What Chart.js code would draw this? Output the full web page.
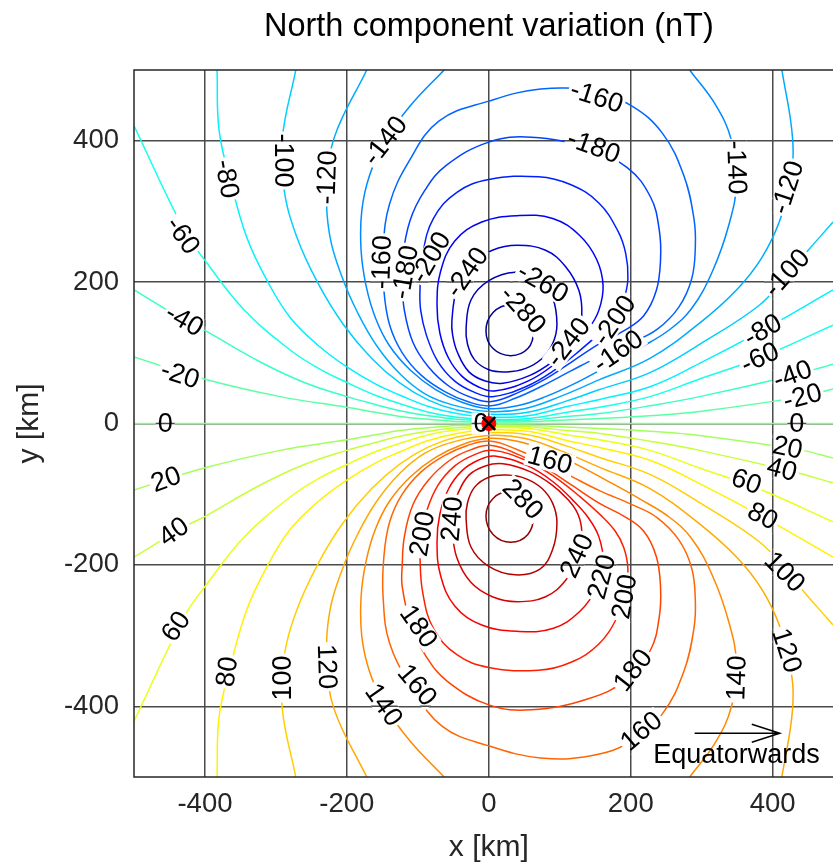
<!DOCTYPE html>
<html>
<head>
<meta charset="utf-8">
<script src="https://cdn.jsdelivr.net/npm/chart.js@4.4.1/dist/chart.umd.min.js"></script>
<style>
  html, body { margin: 0; padding: 0; background: #fff; }
</style>
</head>
<body>
<canvas id="myChart" width="833" height="863"></canvas>
<script>
// tick values (km)
var xTicks = [-400, -200, 0, 200, 400];
var yTicks = [-400, -200, 0, 200, 400];

// contour lines, [x km, y km]
// closed rings are listed once round, without repeating the first point
// negative levels (upper half)
var cN280 = [[-4,131],[6,157],[31,168],[55,157],[63,131],[55,106],[31,96],[6,106]];
var cN260 = [[-32,135],[-25,175],[0,202],[37,214],[72,206],[90,178],[96,140],[90,113],[75,92],[52,78],[25,73],[0,76],[-20,90],[-30,112]];
var cN240 = [[-52,146],[-45,190],[-25,225],[5,245],[40,252],[80,245],[108,222],[127,188],[131,153],[125,127],[110,106],[88,86],[58,68],[20,57],[-5,60],[-28,73],[-44,100],[-51,125]];
var cN220 = [[-73,168],[-68,215],[-48,258],[-10,285],[40,294],[90,290],[128,266],[152,232],[161,195],[155,160],[140,133],[118,108],[90,82],[55,60],[8,46],[-15,52],[-38,67],[-57,93],[-69,128]];
var cN200 = [[-97,189],[-93,240],[-78,290],[-45,327],[0,345],[70,349],[115,338],[155,312],[182,272],[193,240],[196,205],[190,175],[178,152],[158,130],[128,103],[92,75],[52,52],[5,38],[-20,44],[-48,60],[-72,88],[-88,125],[-96,160]];
var cN180 = [[-122,231],[-111,287],[-90,330],[-60,365],[0,398],[60,405],[138,390],[195,362],[228,320],[240,275],[242,232],[236,188],[218,152],[190,131],[156,113],[118,88],[80,63],[42,44],[4,31],[-25,37],[-55,52],[-85,80],[-107,115],[-119,160],[-122,200]];
var cN160 = [[-149,245],[-140,310],[-113,370],[-70,428],[0,456],[73,473],[144,470],[200,450],[245,410],[275,350],[289,290],[291,250],[286,205],[268,165],[237,133],[200,114],[156,95],[115,74],[75,53],[38,36],[3,25],[-30,31],[-62,45],[-95,68],[-122,100],[-140,140],[-148,190]];
var cN140 = [[-63,500],[-111,449],[-146,400],[-168,351],[-179,301],[-180,245],[-173,195],[-160,150],[-140,110],[-110,75],[-75,48],[-38,30],[0,21],[40,25],[80,38],[120,56],[165,80],[215,108],[255,133],[286,163],[315,215],[338,280],[349,340],[342,400],[320,450],[283,500]];
var cN120 = [[-172,500],[-218,404],[-228,334],[-224,265],[-206,205],[-185,157],[-158,110],[-125,70],[-90,42],[-50,26],[0,17],[50,21],[100,38],[156,62],[227,92],[297,142],[350,190],[385,235],[410,287],[425,344],[428,404],[413,500]];
var cN100 = [[-272,500],[-291,404],[-289,334],[-271,265],[-240,197],[-205,140],[-165,92],[-125,57],[-85,33],[-45,19],[0,13],[55,16],[110,32],[156,48],[227,72],[297,112],[382,168],[420,210],[450,245],[485,285]];
var cN80 = [[-383,500],[-380,414],[-363,339],[-341,263],[-313,203],[-280,150],[-240,110],[-200,80],[-160,56],[-125,40],[-85,24],[-45,14],[0,9],[55,11],[110,24],[156,34],[227,52],[297,85],[386,132],[485,189]];
var cN60 = [[-500,421],[-429,273],[-398,228],[-345,161],[-280,104],[-240,78],[-200,58],[-160,40],[-125,28],[-85,16],[-45,9],[0,6],[55,7],[110,16],[156,23],[227,38],[297,63],[382,93],[485,139]];
var cN40 = [[-500,189],[-429,146],[-401,132],[-322,87],[-260,58],[-200,38],[-160,27],[-125,18],[-85,11],[-45,6],[0,4],[55,4.5],[110,10],[156,14],[227,25],[297,38],[428,68],[485,84]];
var cN20 = [[-500,94],[-401,63],[-294,38],[-200,23],[-160,16],[-125,10],[-85,6],[-45,3],[0,2],[55,2.5],[110,5],[156,7],[227,11],[297,17],[442,38],[485,49]];
var c0 = [[-500,0],[485,0]];
// positive levels (lower half)
var cP20 = [[-500,-94],[-401,-63],[-294,-38],[-200,-23],[-160,-16],[-125,-10],[-85,-6],[-45,-3],[0,-2],[55,-2.5],[110,-5],[156,-7],[227,-11],[297,-17],[442,-38],[485,-49]];
var cP40 = [[-500,-189],[-429,-146],[-401,-132],[-322,-87],[-260,-58],[-200,-38],[-160,-27],[-125,-18],[-85,-11],[-45,-6],[0,-4],[55,-4.5],[110,-10],[156,-14],[227,-25],[297,-38],[428,-68],[485,-84]];
var cP60 = [[-500,-421],[-429,-273],[-398,-228],[-345,-161],[-280,-104],[-240,-78],[-200,-58],[-160,-40],[-125,-28],[-85,-16],[-45,-9],[0,-6],[55,-7],[110,-16],[156,-23],[227,-38],[297,-63],[382,-93],[485,-139]];
var cP80 = [[-383,-500],[-380,-414],[-363,-339],[-341,-263],[-313,-203],[-280,-150],[-240,-110],[-200,-80],[-160,-56],[-125,-40],[-85,-24],[-45,-14],[0,-9],[55,-11],[110,-24],[156,-34],[227,-52],[297,-85],[386,-132],[485,-189]];
var cP100 = [[-272,-500],[-291,-404],[-289,-334],[-271,-265],[-240,-197],[-205,-140],[-165,-92],[-125,-57],[-85,-33],[-45,-19],[0,-13],[55,-16],[110,-32],[156,-48],[227,-72],[297,-112],[382,-168],[420,-210],[450,-245],[485,-285]];
var cP120 = [[-172,-500],[-218,-404],[-228,-334],[-224,-265],[-206,-205],[-185,-157],[-158,-110],[-125,-70],[-90,-42],[-50,-26],[0,-17],[50,-21],[100,-38],[156,-62],[227,-92],[297,-142],[350,-190],[385,-235],[410,-287],[425,-344],[428,-404],[413,-500]];
var cP140 = [[-63,-500],[-111,-449],[-146,-400],[-168,-351],[-179,-301],[-180,-245],[-173,-195],[-160,-150],[-140,-110],[-110,-75],[-75,-48],[-38,-30],[0,-21],[40,-25],[80,-38],[120,-56],[165,-80],[215,-108],[255,-133],[286,-163],[315,-215],[338,-280],[349,-340],[342,-400],[320,-450],[283,-500]];
var cP160 = [[-149,-245],[-140,-310],[-110,-370],[-66,-428],[0,-456],[73,-473],[144,-470],[200,-450],[245,-410],[275,-350],[289,-290],[291,-250],[286,-205],[268,-165],[237,-133],[200,-114],[156,-95],[115,-74],[75,-53],[38,-36],[3,-25],[-30,-31],[-62,-45],[-95,-68],[-122,-100],[-140,-140],[-148,-190]];
var cP180 = [[-122,-231],[-109,-287],[-88,-330],[-58,-365],[0,-398],[60,-405],[138,-390],[195,-362],[228,-320],[240,-275],[242,-232],[236,-188],[218,-152],[190,-131],[156,-113],[118,-88],[80,-63],[42,-44],[4,-31],[-25,-37],[-55,-52],[-85,-80],[-107,-115],[-119,-160],[-122,-200]];
var cP200 = [[-97,-189],[-93,-240],[-78,-290],[-45,-327],[0,-345],[70,-349],[115,-338],[155,-312],[182,-272],[193,-240],[196,-205],[190,-175],[178,-152],[158,-130],[128,-103],[92,-75],[52,-52],[5,-38],[-20,-44],[-48,-60],[-72,-88],[-88,-125],[-96,-160]];
var cP220 = [[-73,-168],[-68,-215],[-48,-258],[-10,-285],[40,-294],[90,-290],[128,-266],[152,-232],[161,-195],[155,-160],[140,-133],[118,-108],[90,-82],[55,-60],[8,-46],[-15,-52],[-38,-67],[-57,-93],[-69,-128]];
var cP240 = [[-52,-146],[-45,-190],[-25,-225],[5,-245],[40,-252],[80,-245],[108,-222],[127,-188],[131,-153],[125,-127],[110,-106],[88,-86],[58,-68],[20,-57],[-5,-60],[-28,-73],[-44,-100],[-51,-125]];
var cP260 = [[-32,-135],[-25,-175],[0,-202],[37,-214],[72,-206],[90,-178],[96,-140],[90,-113],[75,-92],[52,-78],[25,-73],[0,-76],[-20,-90],[-30,-112]];
var cP280 = [[-4,-131],[6,-157],[31,-168],[55,-157],[63,-131],[55,-106],[31,-96],[6,-106]];

var levels = [-280, -260, -240, -220, -200, -180, -160, -140, -120, -100, -80, -60, -40, -20, 0,
              20, 40, 60, 80, 100, 120, 140, 160, 180, 200, 220, 240, 260, 280];
var contourLines = [cN280, cN260, cN240, cN220, cN200, cN180, cN160, cN140, cN120, cN100, cN80, cN60, cN40, cN20, c0,
                    cP20, cP40, cP60, cP80, cP100, cP120, cP140, cP160, cP180, cP200, cP220, cP240, cP260, cP280];
var closedLevels = [-280, -260, -240, -220, -200, -180, -160, 160, 180, 200, 220, 240, 260, 280];

// inline contour labels: [text, x km, y km, angle deg]
var contourLabels = [
  ["-80", -369, 346, 80], ["-100", -290, 372, 90], ["-120", -228, 348, -88], ["-60", -431, 266, 55],
  ["-140", -146, 400, -52], ["-40", -429, 146, 30], ["-20", -435, 69, 18], ["0", -456, 0, 0],
  ["-160", -151, 228, -88], ["-180", -118, 214, -80], ["-200", -82, 235, -60], ["-240", -31, 214, -55],
  ["-260", 76, 199, 30], ["-280", 48, 161, 48], ["-240", 112, 115, -52], ["-200", 177, 146, -55],
  ["-160", 182, 102, -35], ["-160", 152, 462, 18], ["-180", 148, 392, 20], ["-140", 349, 362, 88],
  ["-120", 421, 334, -72], ["-100", 420, 213, -48], ["-80", 386, 132, -30], ["-60", 382, 93, -25],
  ["-40", 428, 69, -20], ["-20", 442, 38, -15], ["0", 434, 0, 0], ["0", -11, 0, 0],
  ["20", 421, -34, 12], ["40", 413, -65, 15], ["60", 363, -82, 20], ["80", 386, -131, 28],
  ["100", 417, -210, 45], ["120", 420, -321, 72], ["140", 349, -360, -88], ["160", 215, -435, -40],
  ["180", 203, -349, -52], ["200", 191, -245, -80], ["220", 159, -217, -75], ["240", 124, -187, -65],
  ["160", 86, -52, 15], ["280", 48, -107, 45], ["240", -52, -135, -85], ["200", -94, -156, -80],
  ["180", -99, -287, 55], ["160", -101, -370, 50], ["140", -148, -398, 55], ["120", -228, -344, 88],
  ["100", -291, -360, -90], ["80", -369, -351, -82], ["60", -441, -287, -55], ["40", -444, -153, -35],
  ["20", -455, -79, -20]
];

var sourcePoint = [{ x: 0, y: 0 }];
var arrowFrom = [290, -438];
var arrowTo = [410, -438];
var arrowText = [349, -469];

var FONT = "'Liberation Sans', Arial, sans-serif";

function clamp01(v) { return Math.max(0, Math.min(1, v)); }
function jet(level) {
  var t = (level + 290) / 580;
  var r = clamp01(1.5 - Math.abs(4 * t - 3));
  var g = clamp01(1.5 - Math.abs(4 * t - 2));
  var b = clamp01(1.5 - Math.abs(4 * t - 1));
  return "rgb(" + Math.round(r * 255) + "," + Math.round(g * 255) + "," + Math.round(b * 255) + ")";
}

var datasets = contourLines.map(function (pts, i) {
  var color = jet(levels[i]);
  var closed = closedLevels.indexOf(levels[i]) >= 0;
  var path = pts;
  var n = pts.length;
  if (closed) {
    // wrap one point on each side so the spline runs smoothly round the loop
    path = [pts[n - 1]].concat(pts, [pts[0], pts[1]]);
  }
  return {
    data: path.map(function (p) { return { x: p[0], y: p[1] }; }),
    showLine: true,
    borderColor: color,
    borderWidth: 1.5,
    pointRadius: 0,
    tension: 0.4,
    fill: false,
    order: 1,
    segment: closed ? {
      borderColor: function (c) {
        return (c.p0DataIndex === 0 || c.p0DataIndex === n + 1) ? "rgba(0,0,0,0)" : color;
      }
    } : undefined
  };
});
// source marker: black cross on a red dot
datasets.push({
  data: sourcePoint, pointStyle: "crossRot", pointRadius: 9,
  pointBorderColor: "#000", pointBorderWidth: 2.5, showLine: false, order: 0
});
datasets.push({
  data: sourcePoint, pointStyle: "circle", pointRadius: 7,
  pointBackgroundColor: "#ff0000", pointBorderColor: "#ff0000", pointBorderWidth: 1, showLine: false, order: 0
});

var GRID = "#4a4a4a";

function drawGrid(ctx, chart) {
  var xs = chart.scales.x, ys = chart.scales.y, a = chart.chartArea;
  ctx.strokeStyle = GRID;
  ctx.lineWidth = 1.5;
  ctx.beginPath();
  xTicks.forEach(function (v) {
    var p = xs.getPixelForValue(v);
    ctx.moveTo(p, a.top); ctx.lineTo(p, a.bottom);
  });
  yTicks.forEach(function (v) {
    var p = ys.getPixelForValue(v);
    ctx.moveTo(a.left, p); ctx.lineTo(a.right, p);
  });
  ctx.stroke();
}

var overlay = {
  id: "overlay",
  afterDatasetDraw: function (chart, args) {
    if (args.index !== 0) return;
    var ctx = chart.ctx, xs = chart.scales.x, ys = chart.scales.y, a = chart.chartArea;
    var base = ctx.getTransform();
    ctx.save();
    ctx.beginPath();
    ctx.rect(a.left, a.top, a.right - a.left, a.bottom - a.top);
    ctx.clip();
    ctx.font = "27px " + FONT;
    // gaps in the contour lines under the labels
    contourLabels.forEach(function (lab) {
      var px = xs.getPixelForValue(lab[1]), py = ys.getPixelForValue(lab[2]);
      ctx.save();
      ctx.translate(px, py);
      ctx.rotate(lab[3] * Math.PI / 180);
      var w = ctx.measureText(lab[0]).width + 4;
      ctx.beginPath();
      ctx.rect(-w / 2, -11, w, 22);
      ctx.fillStyle = "#fff";
      ctx.fill();
      ctx.clip();
      ctx.setTransform(base);
      drawGrid(ctx, chart);
      ctx.restore();
    });
    ctx.fillStyle = "#000";
    ctx.textAlign = "center";
    ctx.textBaseline = "middle";
    contourLabels.forEach(function (lab) {
      var px = xs.getPixelForValue(lab[1]), py = ys.getPixelForValue(lab[2]);
      ctx.save();
      ctx.translate(px, py);
      ctx.rotate(lab[3] * Math.PI / 180);
      ctx.fillText(lab[0], 0, 1);
      ctx.restore();
    });
    // equatorwards arrow
    var x1 = xs.getPixelForValue(arrowFrom[0]), y1 = ys.getPixelForValue(arrowFrom[1]);
    var x2 = xs.getPixelForValue(arrowTo[0]), y2 = ys.getPixelForValue(arrowTo[1]);
    ctx.strokeStyle = "#000";
    ctx.lineWidth = 1.5;
    ctx.beginPath();
    ctx.moveTo(x1, y1); ctx.lineTo(x2, y2);
    ctx.moveTo(x2 - 28, y2 - 9); ctx.lineTo(x2, y2); ctx.lineTo(x2 - 28, y2 + 9);
    ctx.stroke();
    ctx.fillText("Equatorwards", xs.getPixelForValue(arrowText[0]), ys.getPixelForValue(arrowText[1]));
    ctx.restore();
  },
  afterDraw: function (chart) {
    var ctx = chart.ctx, xs = chart.scales.x, ys = chart.scales.y, a = chart.chartArea;
    ctx.save();
    // frame (right side runs off the picture)
    ctx.strokeStyle = "#262626";
    ctx.lineWidth = 1.5;
    ctx.strokeRect(a.left, a.top, a.right - a.left + 20, a.bottom - a.top);
    ctx.fillStyle = "#000";
    ctx.textAlign = "center";
    ctx.textBaseline = "middle";
    var x0 = xs.getPixelForValue(0), y0 = ys.getPixelForValue(0);
    ctx.font = "32.5px " + FONT;
    ctx.fillText("North component variation (nT)", x0, 27);
    ctx.fillStyle = "#262626";
    ctx.font = "30px " + FONT;
    ctx.fillText("x [km]", x0, 848);
    ctx.translate(30, y0);
    ctx.rotate(-Math.PI / 2);
    ctx.fillText("y [km]", 0, 0);
    ctx.restore();
  }
};

var ctx = document.getElementById("myChart");
var myChart = new Chart(ctx, {
  type: "scatter",
  data: { datasets: datasets },
  options: {
    responsive: false,
    animation: false,
    events: [],
    layout: { autoPadding: false, padding: { top: 70, right: 0, bottom: 0, left: 0 } },
    plugins: {
      legend: { display: false },
      tooltip: { enabled: false },
      title: { display: false }
    },
    scales: {
      x: {
        type: "linear",
        min: -500,
        max: 485,
        afterBuildTicks: function (s) { s.ticks = xTicks.map(function (v) { return { value: v }; }); },
        afterFit: function (s) { s.height = 86; s.paddingLeft = 0; s.paddingRight = 0; },
        ticks: { font: { family: FONT, size: 27.5 }, color: "#262626", padding: 11, maxRotation: 0 },
        grid: { color: GRID, lineWidth: 1.5, drawTicks: false },
        border: { display: false }
      },
      y: {
        type: "linear",
        min: -500,
        max: 500,
        afterBuildTicks: function (s) { s.ticks = yTicks.map(function (v) { return { value: v }; }); },
        afterFit: function (s) { s.width = 134; },
        ticks: { font: { family: FONT, size: 27.5 }, color: "#262626", padding: 15 },
        grid: { color: GRID, lineWidth: 1.5, drawTicks: false },
        border: { display: false }
      }
    }
  },
  plugins: [overlay]
});
</script>
</body>
</html>
